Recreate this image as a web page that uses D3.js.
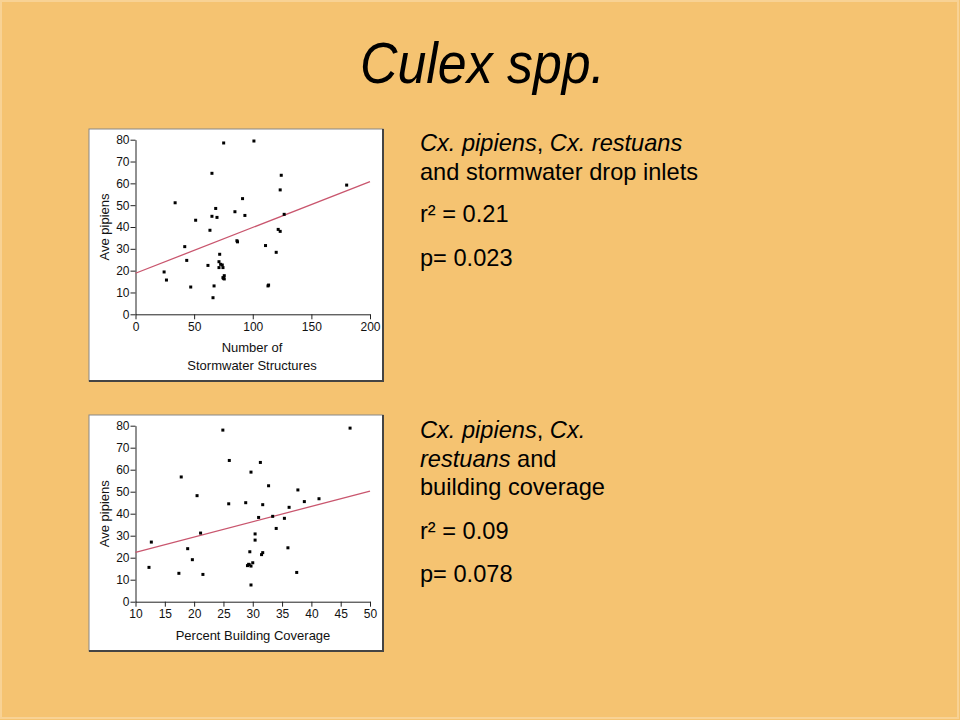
<!DOCTYPE html>
<html>
<head>
<meta charset="utf-8">
<script src="https://cdn.jsdelivr.net/npm/d3@7"></script>
<style>
  html, body { margin: 0; padding: 0; background: #F5C371; }
  svg { display: block; }
  text { font-family: "Liberation Sans", Arial, Helvetica, sans-serif; }
</style>
</head>
<body>
<svg id="chart" width="960" height="720"></svg>
<script>
// ---- Data ----
const stormX = [75.2,101,65.2,124.3,180.1,123.4,33.8,91.3,68.4,84.8,65.2,69.5,93.3,126.8,51.3,63.5,121.7,123.4,86.5,87,42,110.9,71.8,120,43.7,71.2,61.8,72.6,74,71.2,74.6,24.4,75.7,74.6,75.7,75.0,26.4,47.1,67,113.5,113,66.1];
const stormY = [78.5,79.4,64.6,63.7,59.2,57.0,51.1,53.0,48.5,47.0,44.9,44.4,45.3,45.8,43.1,38.5,38.9,38.0,33.7,33.2,31.0,31.5,27.5,28.4,24.7,24.1,22.4,22.9,22.6,21.4,21.4,19.4,17.7,16.8,16.2,16.5,15.7,12.5,13.0,13.4,13.0,7.6];
const stormFitX = [0, 200];
const stormFitY = [18.8, 60.8];

const coverX = [24.9,46.6,26.0,31.3,29.7,17.8,32.7,37.7,20.5,41.3,38.8,28.8,25.9,31.7,36.2,31.0,33.4,35.4,34.0,21.1,30.4,30.4,12.7,18.9,36.0,29.5,31.7,31.5,19.7,30.0,29.4,29.7,29.1,29.3,12.3,17.4,21.5,37.5,29.7];
const coverY = [78.0,78.9,64.2,63.3,58.9,56.7,52.7,50.8,48.2,46.8,45.5,45.0,44.5,44.1,42.9,38.3,38.8,37.9,33.3,31.2,30.8,28.0,27.1,24.1,24.5,22.7,22.3,21.4,19.1,17.7,16.8,16.2,16.4,17.0,15.6,12.9,12.4,13.3,7.6];
const coverFitX = [10, 50];
const coverFitY = [22.4, 50.3];

const yTicks = [0,10,20,30,40,50,60,70,80];
const stormTicks = [0,50,100,150,200];
const coverTicks = [10,15,20,25,30,35,40,45,50];

const svg = d3.select("#chart");

// faint outer frame
svg.append("rect").attr("x",1).attr("y",1).attr("width",957).attr("height",717)
  .attr("fill","none").attr("stroke","#F8D294").attr("stroke-width",2);

// Title
svg.append("text").attr("x",360).attr("y",83)
  .attr("font-size",57).attr("font-style","italic").attr("fill","#000")
  .attr("textLength",245).attr("lengthAdjust","spacingAndGlyphs")
  .text("Culex spp.");

function panel(cfg) {
  const g = svg.append("g");
  g.append("rect").attr("x",cfg.box[0]).attr("y",cfg.box[1])
    .attr("width",cfg.box[2]-cfg.box[0]).attr("height",cfg.box[3]-cfg.box[1])
    .attr("fill","#fff").attr("stroke","#888").attr("stroke-width",1);
  g.append("path")
    .attr("d",`M${cfg.box[2]},${cfg.box[1]}V${cfg.box[3]}H${cfg.box[0]}`)
    .attr("fill","none").attr("stroke","#444").attr("stroke-width",2);

  const x = d3.scaleLinear().domain(cfg.xDomain).range(cfg.xRange);
  const y = d3.scaleLinear().domain([0,80]).range(cfg.yRange);

  const xAxis = g.append("g").attr("transform",`translate(0,${cfg.yRange[0]})`)
    .call(d3.axisBottom(x).tickValues(cfg.xTicks).tickSize(5).tickSizeOuter(0).tickPadding(3));
  const yAxis = g.append("g").attr("transform",`translate(${cfg.xRange[0]},0)`)
    .call(d3.axisLeft(y).tickValues(yTicks).tickSize(5).tickSizeOuter(0).tickPadding(1));
  [xAxis,yAxis].forEach(a => {
    a.selectAll("text").attr("font-size",12).attr("fill","#111")
      .attr("font-family","'Liberation Sans', Arial, sans-serif");
    a.selectAll("line").attr("stroke","#222");
    a.select(".domain").attr("stroke","#222");
  });

  g.append("line")
    .attr("x1",x(cfg.fitX[0])).attr("y1",y(cfg.fitY[0]))
    .attr("x2",x(cfg.fitX[1])).attr("y2",y(cfg.fitY[1]))
    .attr("stroke","#C9566E").attr("stroke-width",1.3);

  g.selectAll("rect.pt").data(cfg.xs.map((v,i)=>[v,cfg.ys[i]])).enter()
    .append("rect").attr("class","pt")
    .attr("x",d=>x(d[0])-1.5).attr("y",d=>y(d[1])-1.5)
    .attr("width",3).attr("height",3).attr("fill","#000");

  const ym = (cfg.yRange[0]+cfg.yRange[1])/2;
  g.append("text").attr("transform",`translate(${cfg.yLabelX},${ym}) rotate(-90)`)
    .attr("text-anchor","middle").attr("font-size",13).attr("fill","#111")
    .text("Ave pipiens");

  cfg.xLabel.forEach((t,i)=>{
    g.append("text").attr("x",cfg.xLabelX).attr("y",cfg.xLabelY[i])
      .attr("text-anchor","middle").attr("font-size",13).attr("fill","#111").text(t);
  });
}

panel({
  box:[89,129,383,381],
  xDomain:[0,200], xRange:[135.5,370], yRange:[314.3,139.7],
  xTicks:stormTicks, xs:stormX, ys:stormY, fitX:stormFitX, fitY:stormFitY,
  yLabelX:109, xLabel:["Number of","Stormwater Structures"], xLabelX:252, xLabelY:[352,369.5]
});

panel({
  box:[89,415,383,651],
  xDomain:[10,50], xRange:[135.5,370], yRange:[601.7,425.7],
  xTicks:coverTicks, xs:coverX, ys:coverY, fitX:coverFitX, fitY:coverFitY,
  yLabelX:109, xLabel:["Percent Building Coverage"], xLabelX:253, xLabelY:[640]
});

function sideText(lines) {
  lines.forEach(l => {
    const t = svg.append("text").attr("x",420).attr("y",l.y).attr("font-size",23.6).attr("fill","#000");
    l.parts.forEach(p => {
      const ts = t.append("tspan").text(p[0]);
      if (p[1]) ts.attr("font-style","italic");
    });
  });
}
sideText([
  {y:151, parts:[["Cx. pipiens",1],[", ",0],["Cx. restuans",1]]},
  {y:179.5, parts:[["and stormwater drop inlets",0]]},
  {y:222, parts:[["r² = 0.21",0]]},
  {y:266, parts:[["p= 0.023",0]]}
]);
sideText([
  {y:438, parts:[["Cx. pipiens",1],[", ",0],["Cx.",1]]},
  {y:466.5, parts:[["restuans",1],[" and",0]]},
  {y:495, parts:[["building coverage",0]]},
  {y:539, parts:[["r² = 0.09",0]]},
  {y:582, parts:[["p= 0.078",0]]}
]);
</script>
</body>
</html>
